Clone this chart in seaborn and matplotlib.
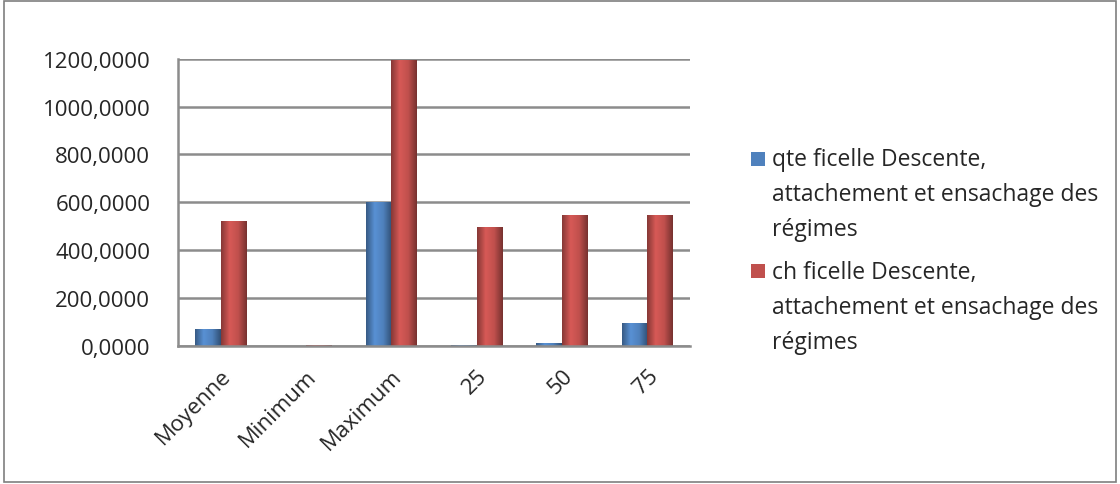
import numpy as np
import pandas as pd
import matplotlib
matplotlib.use("Agg")
import matplotlib.pyplot as plt
import seaborn as sns
from matplotlib.ticker import FuncFormatter
from matplotlib.colors import LinearSegmentedColormap, to_rgb

# ── Data ─────────────────────────────────────────────────────────────────────
categories = ["Moyenne", "Minimum", "Maximum", "25", "50", "75"]
qte_values = [70, 1, 600, 4, 12, 95]
ch_values = [520, 2, 1195, 495, 545, 545]
series_names = [
    "qte ficelle Descente,\nattachement et ensachage des\nrégimes",
    "ch ficelle Descente,\nattachement et ensachage des\nrégimes",
]
series_colors = ["#4F81BD", "#C0504D"]
y_ticks = [0, 200, 400, 600, 800, 1000, 1200]

df = pd.DataFrame({
    "cat": categories * 2,
    "value": qte_values + ch_values,
    "series": [series_names[0]] * len(categories) + [series_names[1]] * len(categories),
})

sns.set_style("white")
plt.rcParams["font.family"] = ["Open Sans", "DejaVu Sans"]

fig = plt.figure(figsize=(11.2, 4.85), dpi=100)
ax = fig.add_axes([0.159, 0.285, 0.457, 0.592])

palette = dict(zip(series_names, series_colors))
sns.barplot(data=df, x="cat", y="value", hue="series", palette=palette,
            width=0.6, ax=ax, saturation=1, legend=False)

# cylinder-like shading on each bar
for patch in list(ax.patches):
    base = np.array(to_rgb(patch.get_facecolor()))
    cmap = LinearSegmentedColormap.from_list(
        "cyl", [base * 0.7, np.minimum(base * 1.12, 1), base, base * 0.62])
    x0, y0 = patch.get_x(), patch.get_y()
    w, h = patch.get_width(), patch.get_height()
    if h <= 0:
        continue
    grad = np.linspace(0, 1, 64).reshape(1, -1)
    im = ax.imshow(grad, cmap=cmap, aspect="auto", extent=(x0, x0 + w, y0, y0 + h),
                   zorder=patch.get_zorder() + 0.1)
    im.set_clip_path(patch)
    patch.set_edgecolor("none")

ax.set_xlim(-0.5, len(categories) - 0.5)
ax.set_ylim(0, 1200)
ax.set_yticks(y_ticks)
ax.yaxis.set_major_formatter(FuncFormatter(lambda v, p: f"{v:.4f}".replace(".", ",")))
ax.grid(axis="y", color="#8c8c8c", linewidth=1.8)
ax.set_axisbelow(True)
for s in ["top", "right"]:
    ax.spines[s].set_visible(False)
for s in ["left", "bottom"]:
    ax.spines[s].set_color("#8c8c8c")
    ax.spines[s].set_linewidth(1.8)
ax.set_xlabel("")
ax.set_ylabel("")
ax.tick_params(axis="y", labelsize=16, length=0, pad=20)
ax.tick_params(axis="x", labelsize=16, length=0, pad=14)
plt.setp(ax.get_xticklabels(), rotation=45, ha="right", rotation_mode="anchor")

# legend: square markers aligned with the first line of each label
legend_tops = [0.688, 0.456]
for name, color, top in zip(series_names, series_colors, legend_tops):
    fig.patches.append(plt.Rectangle((751 / 1120, top - 0.032), 14 / 1120, 14 / 485,
                                     transform=fig.transFigure, facecolor=color,
                                     edgecolor="none"))
    fig.text(772 / 1120, top + 0.006, name, fontsize=16.5, va="top", ha="left",
             linespacing=1.6)

# outer border of the chart area
fig.patches.append(plt.Rectangle((0.004, 0.004), 0.992, 0.992, transform=fig.transFigure,
                                 fill=False, edgecolor="#7f7f7f", linewidth=1.2))

fig.savefig("out.png", dpi=100)
